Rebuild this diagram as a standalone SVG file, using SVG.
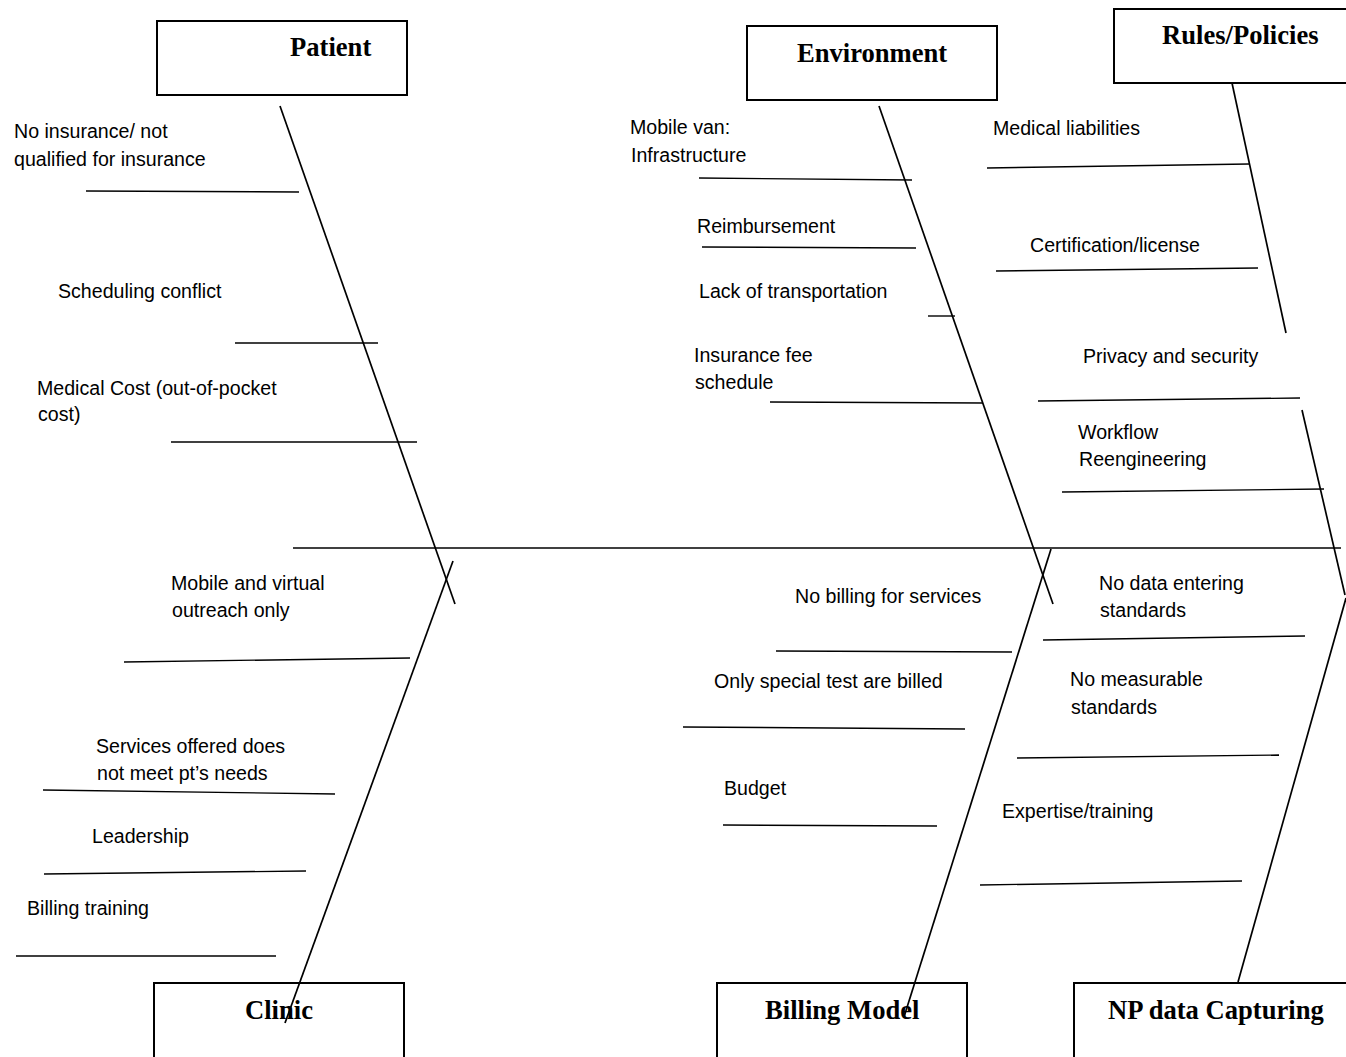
<svg xmlns="http://www.w3.org/2000/svg" width="1346" height="1057" viewBox="0 0 1346 1057">
<style>
.box{fill:#fff;stroke:#000;stroke-width:2}
.title{font-family:"Liberation Serif","Times New Roman",serif;font-weight:bold;font-size:26.6px;fill:#000}
.lbl{font-family:"Liberation Sans",Arial,sans-serif;font-size:19.6px;fill:#000}
.bone{stroke:#000;stroke-width:1.7;fill:none}
.rib{stroke:#000;stroke-width:1.4;fill:none}
</style>
<rect width="1346" height="1057" fill="#fff"/>
<g id="nodes">
<g id="patient"><rect class="box" x="157" y="21" width="250" height="74"/><text class="title" x="290" y="56">Patient</text></g>
<g id="environment"><rect class="box" x="747" y="26" width="250" height="74"/><text class="title" x="797" y="62">Environment</text></g>
<g id="rules"><rect class="box" x="1114" y="9" width="240" height="74"/><text class="title" x="1162" y="44">Rules/Policies</text></g>
<g id="clinic"><rect class="box" x="154" y="983" width="250" height="90"/><text class="title" x="245" y="1019">Clinic</text></g>
<g id="billing"><rect class="box" x="717" y="983" width="250" height="90"/><text class="title" x="765" y="1019">Billing Model</text></g>
<g id="npdata"><rect class="box" x="1074" y="983" width="280" height="90"/><text class="title" x="1108" y="1019">NP data Capturing</text></g>
</g>
<g id="connectors">
<line class="bone" x1="293" y1="548" x2="1341" y2="548"/>
<line class="bone" x1="280" y1="106" x2="455" y2="604"/>
<line class="bone" x1="453" y1="561" x2="285" y2="1023"/>
<line class="bone" x1="879" y1="106" x2="1053" y2="604"/>
<line class="bone" x1="1051" y1="549" x2="904" y2="1017"/>
<line class="bone" x1="1232" y1="83" x2="1286" y2="333"/>
<line class="bone" x1="1302" y1="410" x2="1345" y2="595"/>
<line class="bone" x1="1346" y1="598" x2="1238" y2="982"/>
<line class="rib" x1="86" y1="191" x2="299" y2="192"/>
<line class="rib" x1="235" y1="343" x2="378" y2="343"/>
<line class="rib" x1="171" y1="442" x2="417" y2="442"/>
<line class="rib" x1="124" y1="662" x2="410" y2="658"/>
<line class="rib" x1="43" y1="790" x2="335" y2="794"/>
<line class="rib" x1="44" y1="874" x2="306" y2="871"/>
<line class="rib" x1="16" y1="956" x2="276" y2="956"/>
<line class="rib" x1="699" y1="178" x2="912" y2="180"/>
<line class="rib" x1="702" y1="247" x2="916" y2="248"/>
<line class="rib" x1="928" y1="316" x2="955" y2="316"/>
<line class="rib" x1="770" y1="402" x2="983" y2="403"/>
<line class="rib" x1="987" y1="168" x2="1249" y2="164"/>
<line class="rib" x1="996" y1="271" x2="1258" y2="268"/>
<line class="rib" x1="1038" y1="401" x2="1300" y2="398"/>
<line class="rib" x1="1062" y1="492" x2="1324" y2="489"/>
<line class="rib" x1="776" y1="651" x2="1012" y2="652"/>
<line class="rib" x1="683" y1="727" x2="965" y2="729"/>
<line class="rib" x1="723" y1="825" x2="937" y2="826"/>
<line class="rib" x1="1043" y1="640" x2="1305" y2="636"/>
<line class="rib" x1="1017" y1="758" x2="1279" y2="755"/>
<line class="rib" x1="980" y1="885" x2="1242" y2="881"/>
</g>
<g id="labels">
<text class="lbl" x="14" y="138">No insurance/ not</text>
<text class="lbl" x="14" y="166">qualified for insurance</text>
<text class="lbl" x="58" y="298">Scheduling conflict</text>
<text class="lbl" x="37" y="395">Medical Cost (out-of-pocket</text>
<text class="lbl" x="38" y="421">cost)</text>
<text class="lbl" x="171" y="590">Mobile and virtual</text>
<text class="lbl" x="172" y="617">outreach only</text>
<text class="lbl" x="96" y="753">Services offered does</text>
<text class="lbl" x="97" y="780">not meet pt’s needs</text>
<text class="lbl" x="92" y="843">Leadership</text>
<text class="lbl" x="27" y="915">Billing training</text>
<text class="lbl" x="630" y="134">Mobile van:</text>
<text class="lbl" x="631" y="162">Infrastructure</text>
<text class="lbl" x="697" y="233">Reimbursement</text>
<text class="lbl" x="699" y="298">Lack of transportation</text>
<text class="lbl" x="694" y="362">Insurance fee</text>
<text class="lbl" x="695" y="389">schedule</text>
<text class="lbl" x="993" y="135">Medical liabilities</text>
<text class="lbl" x="1030" y="252">Certification/license</text>
<text class="lbl" x="1083" y="363">Privacy and security</text>
<text class="lbl" x="1078" y="439">Workflow</text>
<text class="lbl" x="1079" y="466">Reengineering</text>
<text class="lbl" x="795" y="603">No billing for services</text>
<text class="lbl" x="714" y="688">Only special test are billed</text>
<text class="lbl" x="724" y="795">Budget</text>
<text class="lbl" x="1099" y="590">No data entering</text>
<text class="lbl" x="1100" y="617">standards</text>
<text class="lbl" x="1070" y="686">No measurable</text>
<text class="lbl" x="1071" y="714">standards</text>
<text class="lbl" x="1002" y="818">Expertise/training</text>
</g>
</svg>
